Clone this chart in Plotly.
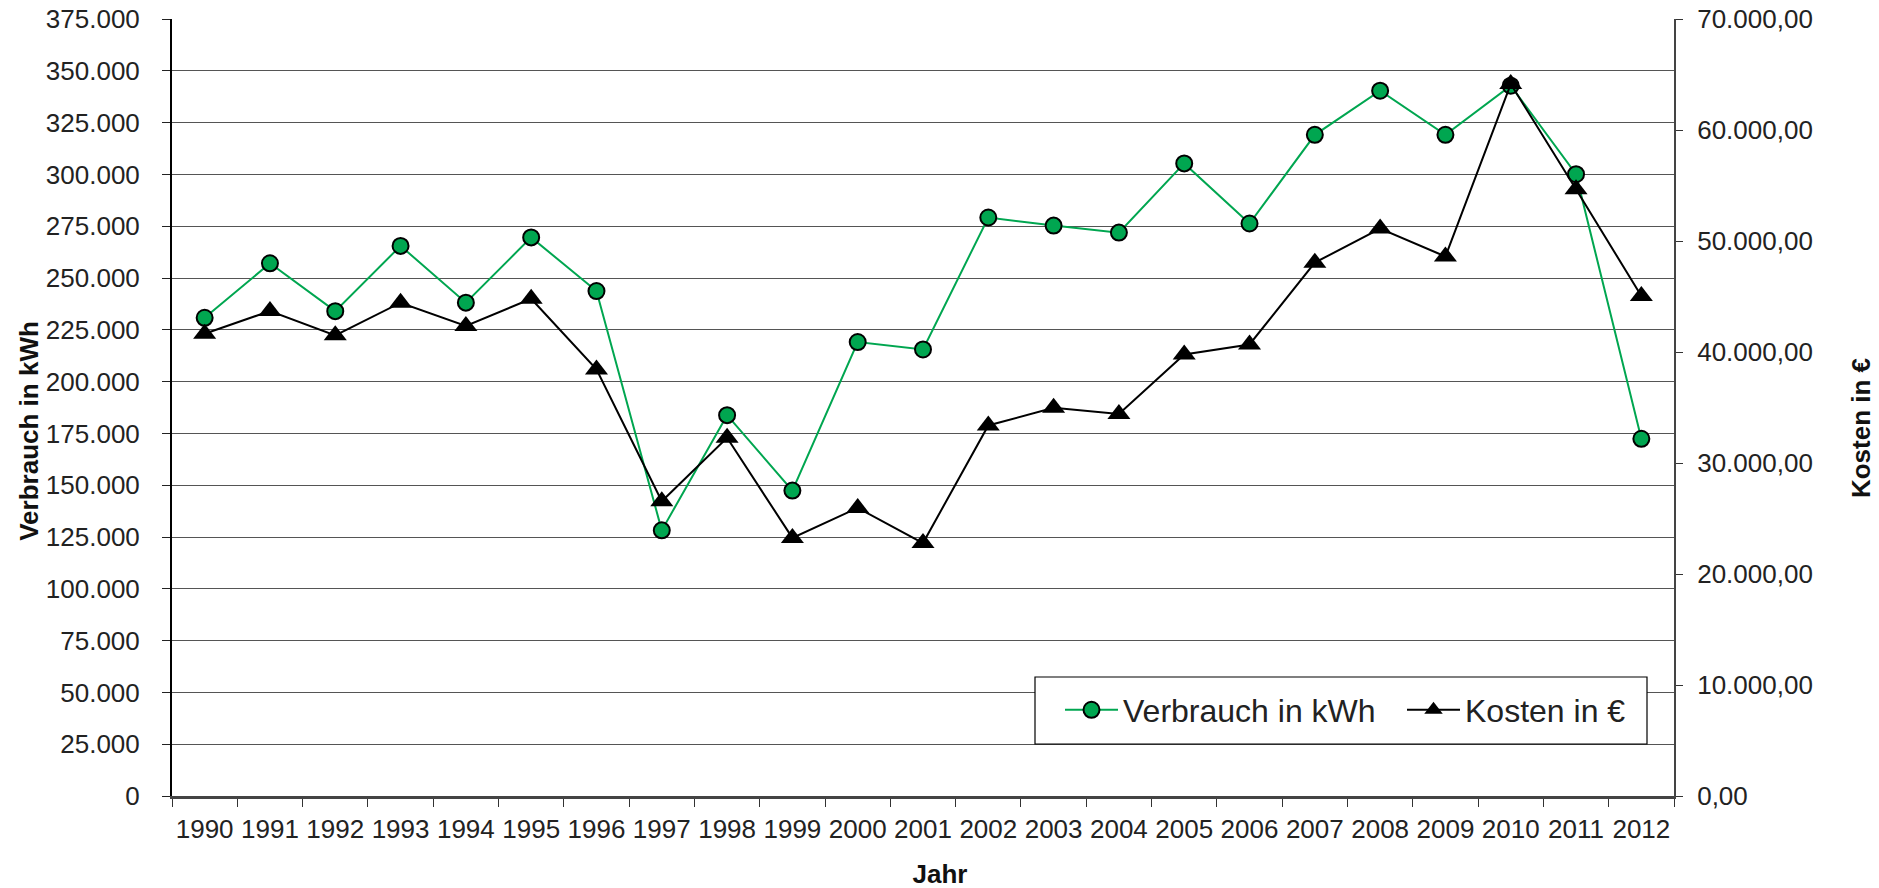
import plotly.graph_objects as go

years = [str(y) for y in range(1990, 2013)]
verbrauch_kwh = [230800, 257100, 234000, 265500, 238100, 269600, 243700, 128200, 183800,
                 147400, 219100, 215500, 279200, 275300, 271900, 305300, 276300, 319100,
                 340400, 319100, 342800, 300100, 172400]
kosten_eur = [41650, 43690, 41500, 44440, 42340, 44800, 38430, 26550, 32270, 23250, 25950,
              22790, 33380, 34970, 34410, 39780, 40680, 48050, 51120, 48600, 64140, 54660,
              45040]

GREEN = "#00a650"
FONT = "Liberation Sans, Arial, sans-serif"

# the page body has an 8px margin: work in page coordinates and subtract it
OFF = 8
W, H = 1879 - OFF, 888 - OFF
PL, PR, PT, PB = 172, 1674, 19, 796          # plot area in page pixels
L, T = PL - OFF, PT - OFF
R = W - (PR - OFF)
B = H - (PB - OFF)
PW, PH = W - L - R, H - T - B


def px(xp):
    return (xp - OFF - L) / PW


def py(yp):
    return (H - B - (yp - OFF)) / PH


fig = go.Figure()
fig.add_trace(go.Scatter(
    x=years, y=verbrauch_kwh, name="Verbrauch in kWh", mode="lines+markers",
    line=dict(color=GREEN, width=2),
    marker=dict(symbol="circle", size=16, color=GREEN, line=dict(color="black", width=2)),
    yaxis="y"))
fig.add_trace(go.Scatter(
    x=years, y=kosten_eur, name="Kosten in €", mode="lines+markers",
    line=dict(color="black", width=2),
    marker=dict(symbol="triangle-up", size=20, color="black", line=dict(color="black", width=0)),
    yaxis="y2"))

fig.update_layout(
    width=W, height=H,
    margin=dict(l=L, r=R, t=T, b=B, pad=0, autoexpand=False),
    paper_bgcolor="white", plot_bgcolor="white",
    separators=",.",
    font=dict(family=FONT, size=26, color="#222"),
    showlegend=True,
    legend=dict(orientation="h", x=px(1060), y=py(710), xanchor="left", yanchor="middle",
                bgcolor="rgba(0,0,0,0)", borderwidth=0,
                font=dict(family=FONT, size=32, color="#222"),
                itemwidth=53, entrywidth=274, entrywidthmode="pixels"),
    xaxis=dict(type="category", tickson="boundaries", ticks="outside", ticklen=8,
               tickcolor="#333", tickwidth=1, showgrid=False, showline=True,
               linecolor="#444", linewidth=2.5, ticklabelstandoff=8, tickangle=0,
               tickfont=dict(size=26, color="#222"), range=[-0.5, 22.5],
               ticklabeloverflow="allow"),
    yaxis=dict(range=[0, 375000], dtick=25000, tickformat=",d", ticks="outside",
               ticklen=8, tickcolor="#222", showgrid=True, gridcolor="#555", gridwidth=1.2,
               showline=True, linecolor="black", linewidth=2, zeroline=False,
               ticklabelstandoff=17, tickfont=dict(size=26, color="#222"),
               ticklabeloverflow="allow"),
    yaxis2=dict(range=[0, 70000], dtick=10000, tickformat=",.2f", overlaying="y",
                side="right", ticks="outside", ticklen=7, tickcolor="#333",
                showgrid=False, showline=True, linecolor="#444", linewidth=2,
                zeroline=False, ticklabelstandoff=9, tickfont=dict(size=26, color="#222"),
                ticklabeloverflow="allow"),
)

# legend frame
fig.add_shape(type="rect", xref="paper", yref="paper",
              x0=px(1035), x1=px(1647), y0=py(744), y1=py(677),
              fillcolor="white", line=dict(color="black", width=1.2), layer="above")


def text_box(text, xc, yc, w, h, angle=0):
    fig.add_shape(type="rect", xref="paper", yref="paper",
                  x0=px(xc - w / 2), x1=px(xc + w / 2), y0=py(yc + h / 2), y1=py(yc - h / 2),
                  line=dict(width=0), fillcolor="rgba(0,0,0,0)",
                  label=dict(text=text, textposition="middle center", textangle=angle,
                             font=dict(family=FONT, size=26, color="#111")))


text_box("<b>Jahr</b>", 940, 872, 80, 24)
text_box("<b>Verbrauch in kWh</b>", 27, 431, 30, 240, angle=-90)
text_box("<b>Kosten in €</b>", 1859, 428, 30, 150, angle=-90)

fig.write_html("out.html")
